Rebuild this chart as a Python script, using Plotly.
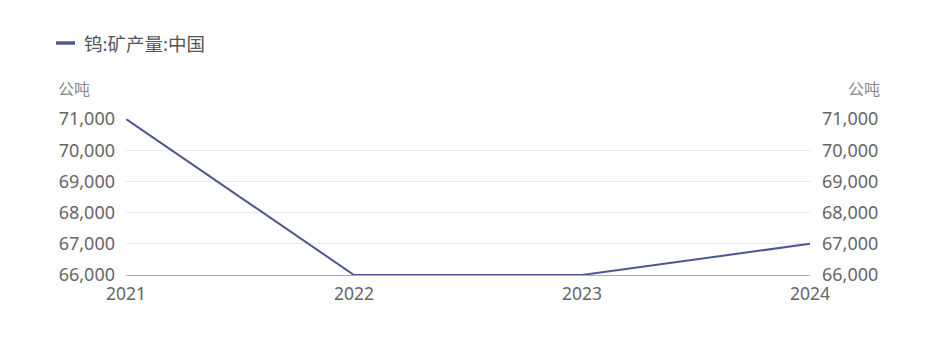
import plotly.graph_objects as go

years = ["2021", "2022", "2023", "2024"]
values = [71000, 66000, 66000, 67000]
series_name = "钨:矿产量:中国"
unit = "公吨"
tick_vals = [66000, 67000, 68000, 69000, 70000, 71000]

FONT = "Noto Sans, Noto Sans CJK SC, sans-serif"
LINE = "#4e5794"

fig = go.Figure()
fig.add_trace(go.Scatter(
    x=list(range(len(years))), y=values, mode="lines", name=series_name,
    line=dict(color=LINE, width=2), showlegend=False,
))
fig.add_trace(go.Scatter(
    x=list(range(len(years))), y=values, mode="lines", yaxis="y2",
    line=dict(color="rgba(0,0,0,0)", width=0), showlegend=False, hoverinfo="skip",
))

tick_text = [f"{v:,}" for v in tick_vals]
fig.update_layout(
    width=937, height=339,
    margin=dict(l=126, r=127, t=119, b=64),
    paper_bgcolor="white", plot_bgcolor="white",
    font=dict(family=FONT, size=18, color="#666666"),
    showlegend=False,
    xaxis=dict(
        range=[0, len(years) - 1], tickvals=list(range(len(years))), ticktext=years,
        showgrid=False, zeroline=False, showline=True, linecolor="#aaaab8", linewidth=1,
        ticks="", tickfont=dict(size=17.5, color="#666666"), ticklabelstandoff=3,
    ),
    yaxis=dict(
        range=[66000, 71000], tickvals=tick_vals, ticktext=tick_text,
        showgrid=True, gridcolor="#e8e8ee", gridwidth=1, zeroline=False,
        showline=False, ticks="", tickfont=dict(size=18, color="#666666"),
        ticklabelstandoff=10,
    ),
    yaxis2=dict(
        range=[66000, 71000], tickvals=tick_vals, ticktext=tick_text,
        overlaying="y", side="right", showgrid=False, zeroline=False,
        showline=False, ticks="", tickfont=dict(size=18, color="#666666"),
        ticklabelstandoff=11,
    ),
    shapes=[
        dict(type="line", xref="paper", yref="paper",
             x0=-70 / 684, x1=-51 / 684, y0=1 + 76 / 156, y1=1 + 76 / 156,
             line=dict(color=LINE, width=3.5)),
    ],
    annotations=[
        dict(text=series_name, xref="paper", yref="paper", x=-44 / 684, y=1 + 76 / 156,
             xanchor="left", yanchor="middle", showarrow=False,
             font=dict(size=18.5, color="#555555")),
        dict(text=unit, xref="paper", yref="paper", x=-70 / 684, y=1 + 30 / 156, xanchor="left",
             yanchor="middle", showarrow=False, font=dict(size=16, color="#888888")),
        dict(text=unit, xref="paper", yref="paper", x=1 + 72 / 684, y=1 + 30 / 156, xanchor="right",
             yanchor="middle", showarrow=False, font=dict(size=16, color="#888888")),
    ],
)

fig.write_html("out.html")
